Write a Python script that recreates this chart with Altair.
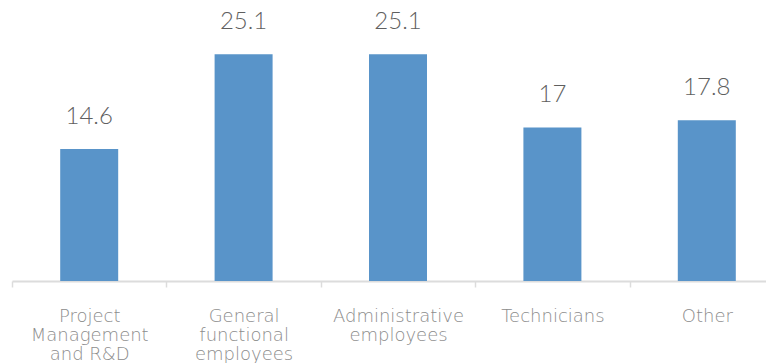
import altair as alt
import pandas as pd

categories = ["Project\nManagement\nand R&D", "General\nfunctional\nemployees",
              "Administrative\nemployees", "Technicians", "Other"]
values = [14.6, 25.1, 25.1, 17, 17.8]
labels = ["14.6", "25.1", "25.1", "17", "17.8"]

df = pd.DataFrame({"cat": categories, "val": values, "lab": labels})

xscale = alt.Scale(range=[0, 772], paddingInner=0, paddingOuter=0)
x = alt.X("cat:N", sort=categories, title=None, scale=xscale,
          axis=alt.Axis(labelAngle=0,
                        labelExpr="datum.value ? split(datum.value, '\\n') : ''",
                        tickBand="extent", tickSize=6, tickColor="#dcdcdc",
                        domainColor="#dcdcdc", domainWidth=2, tickWidth=1.5,
                        labelColor="#8c8c8c", labelFontSize=18, labelFont="DejaVu Sans",
                        labelFontWeight=300, labelPadding=20, labelLineHeight=19.3,
                        labelBaseline="top"))
y = alt.Y("val:Q", scale=alt.Scale(domain=[0, 30], nice=False), axis=None)

bars = alt.Chart(df).mark_bar(size=58, color="#5994C9").encode(x=x, y=y)
text = alt.Chart(df).mark_text(dy=-20, baseline="bottom", fontSize=24, font="Lato",
                               fontWeight=300, color="#5f5f5f").encode(
    x=alt.X("cat:N", sort=categories, scale=xscale), y="val:Q", text="lab:N")

chart = (bars + text).properties(
    width=754, height=271,
    padding={"left": 4, "top": 2, "right": 0, "bottom": 82},
    autosize=alt.AutoSizeParams(type="none"),
).configure_view(stroke=None)

chart.save("out.html", embed_options={"renderer": "svg", "actions": False})
